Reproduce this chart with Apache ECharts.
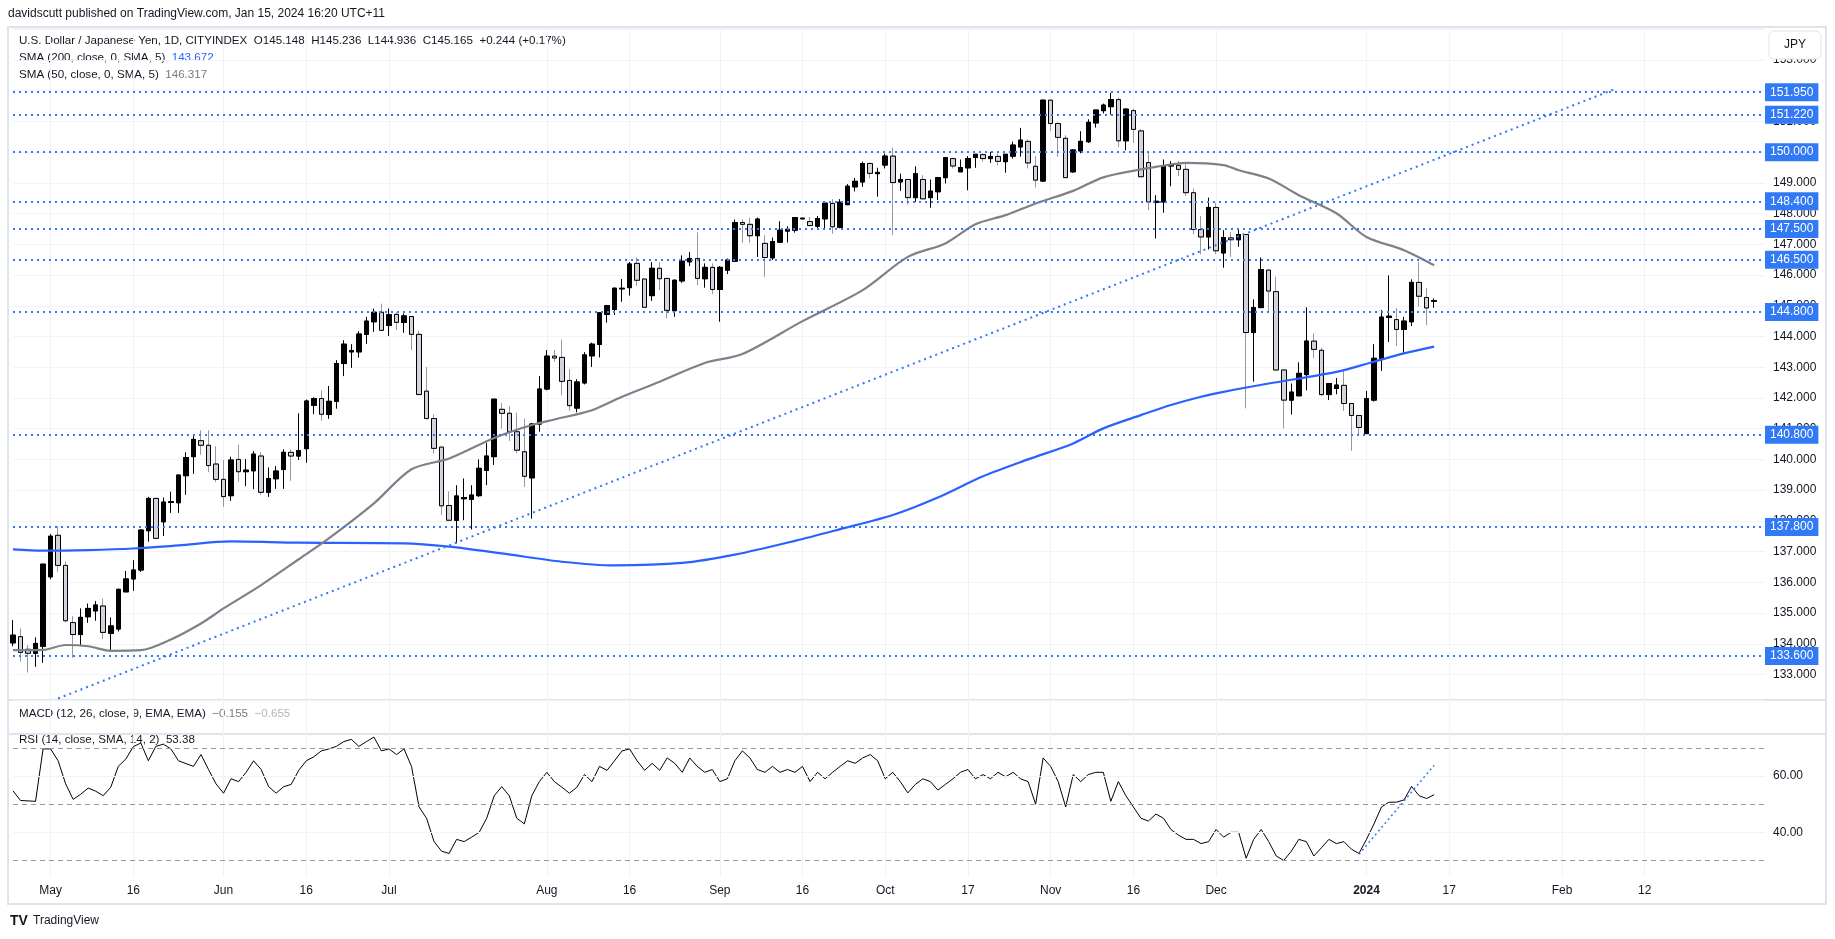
<!DOCTYPE html>
<html><head><meta charset="utf-8">
<script src="https://cdn.jsdelivr.net/npm/echarts@6/dist/echarts.min.js"></script>
<style>html,body{margin:0;padding:0;background:#fff;overflow:hidden}#c{width:1835px;height:939px}</style>
</head><body><div id="c"></div>
<script>
const FONT = '"Liberation Sans",Arial,sans-serif';
// [open, high, low, close]
const candles = [
[134.03,134.77,133.92,134.28],[134.23,134.50,133.42,133.72],[133.82,133.96,133.06,133.69],[133.69,134.21,133.25,134.01],[133.92,136.60,133.38,136.59],
[136.18,137.57,136.10,137.50],[137.53,137.83,136.34,136.55],[136.55,136.67,134.70,134.75],[134.69,134.90,133.54,134.30],[134.30,135.15,133.92,134.86],
[134.88,135.31,134.68,135.15],[135.07,135.39,134.75,135.26],[135.23,135.47,134.15,134.37],[134.34,134.86,133.76,134.58],[134.48,135.80,134.40,135.77],
[135.69,136.37,135.69,136.11],[136.11,136.72,135.72,136.40],[136.40,137.73,136.34,137.70],[137.68,138.78,137.32,138.73],[138.73,138.76,137.40,137.43],
[137.97,138.76,137.51,138.61],[138.60,138.95,138.26,138.62],[138.59,139.50,138.26,139.49],[139.47,140.23,138.85,140.06],[140.09,140.76,139.53,140.65],
[140.61,140.95,140.15,140.46],[140.46,140.95,139.59,139.80],[139.85,140.43,139.26,139.35],[139.35,139.98,138.46,138.79],[138.82,140.09,138.65,139.98],
[140.00,140.48,139.27,139.60],[139.60,140.01,139.13,139.65],[139.63,140.27,139.03,140.17],[140.11,140.23,138.85,138.93],[138.93,139.74,138.78,139.38],
[139.37,139.78,139.04,139.62],[139.67,140.33,139.04,140.23],[140.23,140.32,139.30,140.11],[140.11,141.50,139.98,140.29],[140.35,141.95,139.89,141.90],
[141.76,142.02,141.47,141.98],[141.98,142.25,141.26,141.47],[141.46,142.39,141.32,141.89],[141.89,143.23,141.65,143.12],[143.12,143.88,142.71,143.75],
[143.50,143.75,142.98,143.54],[143.50,144.17,143.31,144.08],[144.07,144.64,143.76,144.50],[144.48,144.91,144.15,144.79],[144.79,145.07,144.20,144.20],
[144.36,144.91,144.02,144.71],[144.72,144.79,144.21,144.46],[144.46,144.75,144.12,144.67],[144.65,144.65,143.56,144.07],[144.07,144.19,142.10,142.11],
[142.22,143.01,141.30,141.33],[141.33,141.47,140.19,140.36],[140.40,140.40,138.19,138.49],[138.50,138.96,138.00,138.02],[138.02,139.16,137.27,138.81],
[138.72,139.38,138.02,138.76],[138.70,139.16,137.72,138.84],[138.82,140.00,138.78,139.71],[139.64,140.54,139.16,140.11],[140.09,141.96,139.82,141.96],
[141.63,141.84,141.00,141.50],[141.50,141.73,140.60,140.90],[140.90,141.52,140.20,140.30],[140.25,141.33,139.10,139.45],[139.40,141.19,138.07,141.15],
[141.15,142.71,140.90,142.29],[142.29,143.56,142.25,143.36],[143.36,143.56,143.18,143.30],[143.32,143.90,142.09,142.54],[142.57,142.94,141.58,141.75],
[141.67,142.61,141.53,142.52],[142.49,143.49,142.44,143.40],[143.37,143.80,143.01,143.75],[143.74,144.77,143.32,144.77],[144.72,145.03,144.45,145.00],
[144.88,145.60,144.70,145.57],[145.55,145.87,145.13,145.57],[145.59,146.43,145.33,146.36],[146.38,146.57,145.64,145.83],[145.87,145.87,144.95,144.95],
[145.33,146.42,145.16,146.22],[146.22,146.42,145.51,145.88],[145.89,145.89,144.59,144.85],[144.84,145.86,144.64,145.83],[145.81,146.64,145.75,146.45],
[146.43,146.75,146.29,146.54],[146.54,147.39,145.67,145.89],[145.88,146.38,145.59,146.25],[146.25,146.38,145.39,145.53],[145.53,146.29,144.48,146.25],
[146.16,146.54,146.03,146.49],[146.45,147.81,146.43,147.71],[147.71,147.81,147.05,147.65],[147.65,147.87,147.05,147.28],[147.28,147.87,146.59,147.82],
[147.03,147.30,145.94,146.57],[146.56,147.22,146.49,147.09],[147.07,147.75,147.05,147.46],[147.43,147.59,147.06,147.49],[147.46,147.89,147.38,147.87],
[147.83,147.86,147.82,147.85],[147.74,147.89,147.59,147.61],[147.59,147.92,147.50,147.84],[147.83,148.37,147.50,148.34],[148.33,148.47,147.34,147.57],
[147.55,148.47,147.52,148.37],[148.29,148.96,148.29,148.89],[148.87,149.16,148.72,149.05],[149.03,149.69,148.87,149.63],[149.63,149.67,149.15,149.31],
[149.30,149.49,148.55,149.34],[149.58,149.95,149.47,149.87],[149.87,150.15,147.30,149.01],[149.03,149.30,148.74,149.11],[149.11,149.11,148.30,148.52],
[148.52,149.54,148.38,149.30],[149.11,149.25,148.48,148.48],[148.52,149.11,148.19,148.73],[148.71,149.17,148.44,149.17],[149.17,149.82,148.98,149.82],
[149.79,149.82,149.47,149.55],[149.36,149.76,149.36,149.50],[149.49,149.87,148.76,149.79],[149.83,149.93,149.49,149.93],[149.92,149.96,149.69,149.79],
[149.79,150.01,149.65,149.86],[149.86,149.96,149.57,149.70],[149.69,149.93,149.33,149.93],[149.87,150.34,149.79,150.23],[150.17,150.79,149.85,150.39],
[150.35,150.41,149.47,149.65],[149.54,149.87,148.85,149.09],[149.06,151.71,149.03,151.69],[151.69,151.71,150.69,150.93],[150.93,150.97,149.85,150.48],
[150.45,150.55,149.17,149.17],[149.36,150.09,149.33,150.07],[150.04,150.68,149.96,150.35],[150.34,151.07,150.30,150.97],[150.95,151.37,150.80,151.37],
[151.35,151.58,151.26,151.53],[151.48,151.93,151.22,151.71],[151.71,151.78,150.17,150.37],[150.37,151.42,150.06,151.40],[151.35,151.42,150.30,150.74],
[150.69,150.75,149.20,149.20],[149.66,150.01,148.11,148.38],[148.36,148.60,147.19,148.40],[148.38,149.76,148.03,149.54],[149.55,149.71,148.89,149.57],
[149.57,149.71,149.22,149.44],[149.44,149.65,148.57,148.68],[148.68,148.82,147.33,147.48],[147.48,147.92,146.68,147.24],[147.24,148.52,146.83,148.20],
[148.20,148.35,146.68,146.79],[146.72,147.46,146.24,147.22],[147.21,147.40,146.59,147.15],[147.15,147.48,146.92,147.32],[147.32,147.32,141.66,144.13],
[144.13,145.21,142.53,144.94],[144.94,146.57,144.94,146.18],[146.16,146.18,144.77,145.48],[145.46,145.95,142.90,142.91],[142.91,142.91,141.01,141.93],
[141.93,142.47,141.46,142.19],[142.07,143.16,142.07,142.80],[142.76,144.95,142.25,143.85],[143.85,144.10,143.29,143.58],[143.55,143.64,142.06,142.11],
[142.11,142.47,141.93,142.47],[142.31,142.65,142.12,142.42],[142.41,142.87,141.58,141.82],[141.82,141.82,140.28,141.43],[141.43,141.43,140.82,141.04],
[140.84,142.23,140.84,141.98],[141.93,143.75,141.88,143.29],[143.29,144.86,142.88,144.63],[144.62,145.99,143.82,144.66],[144.55,144.93,143.69,144.23],
[144.23,144.64,143.43,144.50],[144.48,145.86,144.34,145.76],[145.76,146.42,144.97,145.31],[145.27,145.58,144.37,144.93],[145.148,145.236,144.936,145.165]
];
const slotCount = 234;
const tickIndex = [5,16,28,39,50,71,82,94,105,116,127,138,149,160,180,191,206,217];
const tickText = ['May','16','Jun','16','Jul','Aug','16','Sep','16','Oct','17','Nov','16','Dec','2024','17','Feb','12'];
const sma200 = [[0,137.07],[4,137.03],[10,137.05],[16,137.10],[22,137.20],[29,137.33],[38,137.29],[52,137.27],[58,137.16],[65,136.94],[73,136.67],[80,136.55],[89,136.63],[96,136.90],[104,137.35],[110,137.73],[117,138.19],[123,138.76],[129,139.45],[135,140.00],[141,140.52],[145,141.01],[150,141.44],[154,141.77],[158,142.04],[161,142.20],[167,142.47],[176,142.85],[181,143.18],[185,143.45],[189,143.672]];
const sma50 = [[0,133.79],[4,133.80],[7,133.96],[10,133.92],[13,133.77],[17,133.79],[21,134.14],[25,134.66],[28,135.15],[33,135.91],[38,136.75],[42,137.43],[48,138.57],[53,139.68],[58,140.03],[64,140.70],[69,141.12],[72,141.30],[77,141.60],[81,142.04],[86,142.53],[92,143.14],[97,143.43],[105,144.50],[113,145.51],[119,146.59],[124,147.03],[128,147.65],[132,147.95],[136,148.33],[141,148.74],[145,149.18],[150,149.44],[152,149.52],[156,149.65],[161,149.58],[163,149.41],[167,149.14],[171,148.60],[176,148.01],[180,147.24],[185,146.81],[189,146.317]];
const rsi = [[0,54.7],[1,51.3],[3,51],[4,69.6],[5,69.6],[6,65.4],[7,57.2],[8,51.7],[9,53.5],[10,55.7],[11,54.6],[12,53],[13,56],[14,63.4],[15,66],[16,70.4],[17,71.7],[18,65.4],[19,70.5],[20,71.3],[21,69.6],[22,65.4],[24,63.4],[25,67.6],[26,62.3],[27,57.2],[28,53.9],[29,59],[30,58],[31,61.3],[32,65.4],[33,62.3],[34,56.2],[35,53.9],[36,56.2],[37,57],[38,62],[39,65.4],[40,66.8],[41,68.9],[42,69.6],[43,70.5],[44,72.2],[45,73],[46,70.5],[47,72.2],[48,73.8],[49,68.9],[50,69.6],[51,67.6],[52,69.6],[53,63.4],[54,49],[55,45],[56,36.7],[57,33.3],[58,32.5],[59,37.5],[60,36.7],[61,38.3],[62,40],[63,45],[64,53],[65,56.2],[66,53],[67,45],[68,43],[69,53],[70,58],[71,61.3],[72,58],[73,56],[74,53.9],[75,56],[76,60.5],[77,58],[78,63.4],[79,62],[80,65.4],[81,68.9],[82,69.6],[83,65.4],[84,62],[85,64.5],[86,62],[87,66.4],[88,64.5],[89,61.3],[90,66.4],[91,63.4],[92,61.3],[93,62.3],[94,58],[95,59],[96,65.4],[97,68.9],[98,66.4],[99,62.3],[100,61.3],[101,63.4],[102,61.3],[103,62.3],[104,61.3],[105,63.4],[106,58],[107,61.3],[108,59],[109,61.3],[110,63.4],[111,65.4],[112,64.5],[113,66.4],[114,67.6],[115,65.4],[116,59],[117,61.3],[118,58],[119,54],[120,57],[121,59],[122,58],[123,55],[124,57],[125,59],[126,61.3],[127,62.3],[128,59],[129,60.5],[130,59],[131,61.3],[132,59.7],[133,61.3],[134,59],[135,58],[136,50],[137,66.4],[138,63.4],[139,58],[140,49],[141,60.5],[142,58],[143,60.5],[144,61.3],[145,61.3],[146,51],[147,58],[148,53],[149,49],[150,45],[151,44],[152,46.5],[153,45],[154,41],[155,39],[156,37.5],[157,37.5],[158,36],[159,36.7],[160,41],[161,38.3],[162,40],[163,40],[164,30.8],[165,37.5],[166,41],[167,36.7],[168,31.6],[169,30],[170,33.3],[171,37.5],[172,36.7],[173,31.6],[174,34.5],[175,37.5],[176,36],[177,36.7],[178,34],[179,32.5],[180,37.5],[181,43],[182,49],[183,50.7],[184,50.7],[185,51.5],[186,56.3],[187,53],[188,52],[189,53.38]];
const levels = [151.95,151.22,150.00,148.40,147.50,146.50,144.80,140.80,137.80,133.60];
const trendLine = [[6,132.22],[213,152.05]];
const rsiTrend = [[179,32.2],[189,63.8]];
const rsiBands = [70,50,30];
const rsiGridLines = [60,40];
const lastClose = 145.165, sma200Last = 143.672, sma50Last = 146.317, rsiLast = 53.38;

const BLUE = '#2962ff', LVL = '#3179f5', GRID = '#f0f3fa', TXT = '#131722';
const cats = Array.from({length: slotCount}, (_, i) => 'b' + i);
const showTick = (idx) => tickIndex.indexOf(idx) >= 0;
const tickLabel = (v, idx) => { const k = tickIndex.indexOf(idx); if (k < 0) return ''; return tickText[k] === '2024' ? '{y|2024}' : tickText[k]; };

const chart = echarts.init(document.getElementById('c'), null, {renderer: 'canvas'});
const gridL = 13, gridW = 1752;
const xBase = (gi, labels) => ({
  type: 'category', gridIndex: gi, data: cats, boundaryGap: false,
  axisLine: {show: false}, axisTick: {show: false},
  axisLabel: labels ? {show: true, interval: (i) => showTick(i), formatter: tickLabel, color: TXT, fontSize: 12, fontFamily: FONT, margin: 9, rich: {y: {fontWeight: 'bold', fontSize: 12, fontFamily: FONT, color: TXT}}} : {show: false},
  splitLine: {show: true, interval: (i) => showTick(i), lineStyle: {color: GRID, width: 1}}
});
const boxLabel = (bg, txt) => ({show: true, position: 'end', distance: 0, formatter: txt, backgroundColor: bg, color: '#fff', fontSize: 12, fontFamily: FONT, padding: [3, 5, 2, 5], lineHeight: 13});
const F12 = '12px ' + FONT, F115 = '11.6px ' + FONT;

const option = {
  animation: false,
  backgroundColor: '#fff',
  grid: [
    {left: gridL, top: 28, width: gridW, height: 672},
    {left: gridL, top: 734, width: gridW, height: 142},
    {left: gridL, top: 700, width: gridW, height: 34}
  ],
  xAxis: [xBase(0, false), xBase(1, true), xBase(2, false)],
  yAxis: [
    {type: 'value', gridIndex: 0, position: 'right', min: 132.17, max: 154.04, splitNumber: 22,
     axisLine: {show: false}, axisTick: {show: false},
     axisLabel: {color: TXT, fontSize: 12, fontFamily: FONT, margin: 8, showMinLabel: false, showMaxLabel: false, formatter: (v) => v > 153.5 ? '' : v.toFixed(3)},
     splitLine: {show: true, lineStyle: {color: GRID, width: 1}}},
    {type: 'value', gridIndex: 1, position: 'right', min: 24.5, max: 74.9,
     axisLine: {show: false}, axisTick: {show: false}, splitLine: {show: false},
     axisLabel: {color: TXT, fontSize: 12, fontFamily: FONT, margin: 8, showMinLabel: false, showMaxLabel: false, formatter: (v) => (v === 40 || v === 60) ? v.toFixed(2) : ''}},
    {type: 'value', gridIndex: 2, show: false}
  ],
  series: [
    {type: 'candlestick', name: 'wicks', xAxisIndex: 0, yAxisIndex: 0, barWidth: 5,
     data: candles.map(([o, h, l, c]) => [o, c, l, h]),
     itemStyle: {color: '#000', color0: '#d1d4dc', borderColor: '#000', borderColor0: '#9598a1', borderWidth: 1}},
    {type: 'candlestick', name: 'bodies', xAxisIndex: 0, yAxisIndex: 0, barWidth: 5,
     data: candles.map(([o, h, l, c]) => [o, c, Math.min(o, c), Math.max(o, c)]),
     itemStyle: {color: '#000', color0: '#d1d4dc', borderColor: '#000', borderColor0: '#000', borderWidth: 1}},
    {type: 'line', name: 'SMA200', xAxisIndex: 0, yAxisIndex: 0, data: sma200, symbol: 'none', smooth: 0.3,
     lineStyle: {color: BLUE, width: 2.2}, z: 3},
    {type: 'line', name: 'SMA50', xAxisIndex: 0, yAxisIndex: 0, data: sma50, symbol: 'none', smooth: 0.3,
     lineStyle: {color: '#808089', width: 2.2}, z: 3},
    {type: 'line', name: 'sma50Tag', xAxisIndex: 0, yAxisIndex: 0, data: [], z: 4,
     markLine: {silent: true, symbol: ['none', 'none'], lineStyle: {opacity: 0},
       data: [{yAxis: sma50Last, label: boxLabel('#787b86', sma50Last.toFixed(3))}]}},
    {type: 'line', name: 'levels', xAxisIndex: 0, yAxisIndex: 0, data: [], z: 5,
     markLine: {silent: true, symbol: ['none', 'none'], lineStyle: {color: LVL, width: 2, type: [2, 4]},
       data: levels.map(v => ({yAxis: v, label: boxLabel(LVL, v.toFixed(3))})).concat([
         [{coord: trendLine[0]}, {coord: trendLine[1], label: {show: false}}]
       ])}},
    {type: 'line', name: 'sma200Tag', xAxisIndex: 0, yAxisIndex: 0, data: [], z: 6,
     markLine: {silent: true, symbol: ['none', 'none'], lineStyle: {opacity: 0},
       data: [{yAxis: sma200Last, label: boxLabel(BLUE, sma200Last.toFixed(3))}]}},
    {type: 'line', name: 'lastTag', xAxisIndex: 0, yAxisIndex: 0, data: [], z: 7,
     markLine: {silent: true, symbol: ['none', 'none'], lineStyle: {opacity: 0},
       data: [{yAxis: lastClose, label: boxLabel('#000', lastClose.toFixed(3))}]}},
    {type: 'line', name: 'RSI', xAxisIndex: 1, yAxisIndex: 1, data: rsi, symbol: 'none',
     lineStyle: {color: '#000', width: 1}, z: 4,
     markLine: {silent: true, symbol: ['none', 'none'],
       data: rsiBands.map(v => ({yAxis: v, lineStyle: {color: '#9598a1', width: 1, type: [5, 4]}, label: {show: false}}))
         .concat(rsiGridLines.map(v => ({yAxis: v, lineStyle: {color: GRID, width: 1, type: 'solid'}, label: {show: false}})))
         .concat([[{coord: rsiTrend[0], lineStyle: {color: LVL, width: 1.5, type: [2, 3]}}, {coord: rsiTrend[1], label: {show: false}}]])
         .concat([{yAxis: rsiLast, lineStyle: {opacity: 0}, label: boxLabel('#000', rsiLast.toFixed(2))}])}}
  ],
  graphic: [
    {type: 'rect', silent: true, z: -10, shape: {x: 8, y: 27, width: 1818, height: 877}, style: {fill: 'none', stroke: '#e0e3eb', lineWidth: 2}},
    {type: 'line', silent: true, shape: {x1: 8, y1: 700, x2: 1826, y2: 700}, style: {stroke: '#e0e3eb', lineWidth: 2}},
    {type: 'line', silent: true, shape: {x1: 8, y1: 734, x2: 1826, y2: 734}, style: {stroke: '#e0e3eb', lineWidth: 2}},
    {type: 'text', silent: true, x: 8, y: 14, style: {text: 'davidscutt published on TradingView.com, Jan 15, 2024 16:20 UTC+11', fill: TXT, font: F12, verticalAlign: 'middle'}},
    {type: 'text', silent: true, x: 19, y: 41, style: {text: 'U.S. Dollar / Japanese Yen, 1D, CITYINDEX  O145.148  H145.236  L144.936  C145.165  +0.244 (+0.17%)', fill: TXT, font: F115, verticalAlign: 'middle'}},
    {type: 'text', silent: true, x: 19, y: 58, style: {text: 'SMA (200, close, 0, SMA, 5)  {b|143.672}', fill: TXT, font: F115, verticalAlign: 'middle', rich: {b: {fill: BLUE, font: F115}}}},
    {type: 'text', silent: true, x: 19, y: 75, style: {text: 'SMA (50, close, 0, SMA, 5)  {g|146.317}', fill: TXT, font: F115, verticalAlign: 'middle', rich: {g: {fill: '#787b86', font: F115}}}},
    {type: 'text', silent: true, x: 19, y: 714, style: {text: 'MACD (12, 26, close, 9, EMA, EMA)  {g|\u22120.155}  {h|\u22120.655}', fill: TXT, font: F115, verticalAlign: 'middle', rich: {g: {fill: '#787b86', font: F115}, h: {fill: '#b2b5be', font: F115}}}},
    {type: 'text', silent: true, x: 19, y: 740, style: {text: 'RSI (14, close, SMA, 14, 2)  53.38', fill: TXT, font: F115, verticalAlign: 'middle'}},
    {type: 'rect', silent: true, z: 100, shape: {x: 1769, y: 31, width: 52, height: 28, r: 5}, style: {fill: '#fff', stroke: '#e0e3eb', lineWidth: 1}},
    {type: 'text', silent: true, z: 101, x: 1795, y: 45, style: {text: 'JPY', fill: TXT, font: F12, align: 'center', verticalAlign: 'middle'}},
    {type: 'text', silent: true, x: 10, y: 921, style: {text: 'TV', fill: '#131722', font: 'bold 14px ' + FONT, verticalAlign: 'middle'}},
    {type: 'text', silent: true, x: 33, y: 921, style: {text: 'TradingView', fill: '#131722', font: F12, verticalAlign: 'middle'}}
  ]
};
chart.setOption(option);
</script>
</body></html>
